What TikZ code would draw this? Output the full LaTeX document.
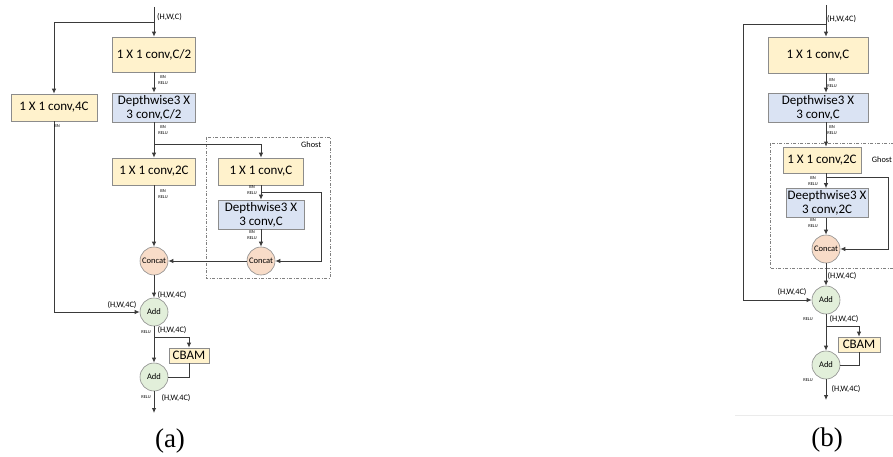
\documentclass[tikz,border=0pt]{standalone}
\usepackage{fontspec}
\setmainfont{Liberation Serif}
\newfontfamily\carlito{Carlito}
\usepackage{tikz}
\usetikzlibrary{calc}
\usetikzlibrary{arrows.meta}
\usetikzlibrary{positioning}
\definecolor{convfill}{HTML}{FFF2CC}
\definecolor{dwfill}{HTML}{DAE3F3}
\definecolor{catfill}{HTML}{F8DCC8}
\definecolor{addfill}{HTML}{E2EFDA}
\definecolor{boxline}{HTML}{8C8C8C}
\definecolor{flowline}{HTML}{3A3A3A}

\begin{document}
\begin{tikzpicture}[x=1pt,y=-1pt,>={Latex[length=5pt,width=4.5pt]},
		convbox/.style={rectangle,draw=boxline,fill=convfill,line width=0.6pt,inner sep=1pt,
			minimum width=83pt,minimum height=27pt,align=center,
			font=\carlito\fontsize{13}{14}\selectfont},
		dwbox/.style={convbox,fill=dwfill,minimum height=29pt},
		catnode/.style={circle,draw=boxline,fill=catfill,line width=0.6pt,inner sep=0pt,
			minimum size=28pt,font=\carlito\fontsize{8.5}{9}\selectfont},
		addnode/.style={catnode,fill=addfill},
		cbambox/.style={convbox,minimum width=40pt,minimum height=15pt,inner sep=0pt},
		bnlabel/.style={inner sep=0pt,align=center,font=\carlito\fontsize{4.5}{6}\selectfont},
		dimlabel/.style={inner sep=0pt,font=\carlito\fontsize{8.3}{9}\selectfont},
		ghostbox/.style={draw=gray,line width=0.6pt,dash pattern=on 3pt off 1.5pt on 1pt off 1.5pt},
		flow/.style={draw=flowline,line width=0.9pt},
		caption/.style={inner sep=0pt,font=\fontsize{27}{29}\selectfont}]
		\clip (0,0) rectangle (893,457);
		
		% ---------------- (a) ----------------
		\draw[ghostbox] (206,137) rectangle (330,278);
		\node[dimlabel,anchor=west] (ghostA) at (301,145) {Ghost};
		
		\coordinate   (inA)    at (154,7);
		\node[convbox,minimum height=35pt] (c1) at (154,54.5) {1 X 1 conv,C/2};
		\node[dwbox]   (d1)   at (154,107.5) {Depthwise3 X\\3 conv,C/2};
		\node[convbox,minimum width=86pt] (sc) at (54,107.5) {1 X 1 conv,4C};
		\node[convbox] (c2)   at (154,171.5) {1 X 1 conv,2C};
		\node[convbox,minimum width=85pt] (g1) at (261,171.5) {1 X 1 conv,C};
		\node[dwbox,minimum width=86pt]   (g2) at (261,214.5) {Depthwise3 X\\3 conv,C};
		\node[catnode] (cat2) at (261,261) {Concat};
		\node[catnode] (cat1) at (154,261) {Concat};
		\node[addnode] (add1) at (154,312) {Add};
		\node[cbambox] (cbam1) at (189,355.5) {CBAM};
		\node[addnode] (add2) at (154,377) {Add};
		\coordinate   (outA)   at (154,413);
		
		\coordinate (splitA) at (154,22);
		\coordinate (splitB) at (154,144);
		\coordinate (splitC) at (261,192);
		\coordinate (turnC)  at (321,192);
		\coordinate (splitE) at (154,337);
		
		\draw[flow,->] (inA) -- (c1);
		\draw[flow,->] (c1) -- (d1);
		\draw[flow,->] (d1) -- (c2);
		\draw[flow,->] (g1) -- (g2);
		\draw[flow,->] (g2) -- (cat2);
		\draw[flow,->] (cat2) -- (cat1);
		\draw[flow,->] (c2) -- (cat1);
		\draw[flow,->] (cat1) -- (add1);
		\draw[flow,->] (add1) -- (add2);
		\draw[flow,->] (add2) -- (outA);
		\draw[flow,->] (splitA) -| (sc.north);
		\draw[flow,->] (sc.south) |- (add1.west);
		\draw[flow,->] (splitB) -| (g1.north);
		\draw[flow,->] (splitC) -- (turnC) |- (cat2.east);
		\draw[flow,->] (splitE) -| (cbam1.north);
		\draw[flow] (cbam1.south) |- (add2.east);
		
		\node[dimlabel,anchor=west] (dimA0) at (157,17) {(H,W,C)};
		\node[bnlabel] (bnA1) at (163,80) {BN\\RELU};
		\node[bnlabel] (bnA2) at (163,130) {BN\\RELU};
		\node[bnlabel] (bnA3) at (57,126) {BN};
		\node[bnlabel] (bnA4) at (163,194) {BN\\RELU};
		\node[bnlabel] (bnA5) at (252,190) {BN\\RELU};
		\node[bnlabel] (bnA6) at (252,235) {BN\\RELU};
		\node[dimlabel] (dimA1) at (172,295) {(H,W,4C)};
		\node[dimlabel] (dimA2) at (122,305) {(H,W,4C)};
		\node[bnlabel] (reluA1) at (146,332) {RELU};
		\node[dimlabel] (dimA3) at (172,330) {(H,W,4C)};
		\node[bnlabel] (reluA2) at (146,397) {RELU};
		\node[dimlabel] (dimA4) at (176,398) {(H,W,4C)};
		\node[caption] (capA) at (170,441) {(a)};
		
		% ---------------- (b) ----------------
		\draw[ghostbox] (770,143) rectangle (910,268);
		\node[dimlabel,anchor=east] (ghostB) at (892,160) {Ghost};
		
		\coordinate   (inB)    at (826,5);
		\node[convbox,minimum width=100pt,minimum height=36pt] (b1) at (818,55) {1 X 1 conv,C};
		\node[dwbox,minimum width=100pt] (b2) at (818,107.5) {Depthwise3 X\\3 conv,C};
		\node[convbox,minimum width=78pt,minimum height=26pt] (b3) at (822,160) {1 X 1 conv,2C};
		\node[dwbox,minimum width=82pt] (b4) at (827,203) {Deepthwise3 X\\3 conv,2C};
		\node[catnode] (cat3) at (826,249) {Concat};
		\node[addnode] (add3) at (826,300) {Add};
		\node[cbambox,minimum width=42pt] (cbam2) at (859,344.5) {CBAM};
		\node[addnode] (add4) at (826,365) {Add};
		\coordinate   (outB)   at (826,400);
		
		\coordinate (splitF) at (826,24);
		\coordinate (turnF)  at (743,24);
		\coordinate (splitG) at (826,177);
		\coordinate (turnG)  at (888,177);
		\coordinate (splitH) at (826,326);
		
		\draw[flow,->] (inB) -- (inB |- b1.north);
		\draw[flow,->] (b1.south -| inB) -- (b2.north -| inB);
		\draw[flow,->] (b2.south -| inB) -- (b3.north -| inB);
		\draw[flow,->] (b3.south -| inB) -- (b4.north -| inB);
		\draw[flow,->] (b4.south -| inB) -- (cat3);
		\draw[flow,->] (cat3) -- (add3);
		\draw[flow,->] (add3) -- (add4);
		\draw[flow,->] (add4) -- (outB);
		\draw[flow,->] (splitF) -- (turnF) |- (add3.west);
		\draw[flow,->] (splitG) -- (turnG) |- (cat3.east);
		\draw[flow,->] (splitH) -| (cbam2.north);
		\draw[flow] (cbam2.south) |- (add4.east);
		
		\node[dimlabel,anchor=west] (dimB0) at (827,19) {(H,W,4C)};
		\node[bnlabel] (bnB1) at (832,83.5) {BN\\RELU};
		\node[bnlabel] (bnB2) at (832,130.5) {BN\\RELU};
		\node[bnlabel] (bnB3) at (813,181) {BN\\RELU};
		\node[bnlabel] (bnB4) at (813,223.5) {BN\\RELU};
		\node[dimlabel] (dimB1) at (842,276) {(H,W,4C)};
		\node[dimlabel] (dimB2) at (792,292) {(H,W,4C)};
		\node[bnlabel] (reluB1) at (808,319) {RELU};
		\node[dimlabel] (dimB3) at (844,319) {(H,W,4C)};
		\node[bnlabel] (reluB2) at (808,380) {RELU};
		\node[dimlabel] (dimB4) at (846,389) {(H,W,4C)};
		\draw[black!8,line width=0.6pt] (735,415) -- (893,415);
		\node[caption] (capB) at (827,440) {(b)};
	\end{tikzpicture}
\end{document}
